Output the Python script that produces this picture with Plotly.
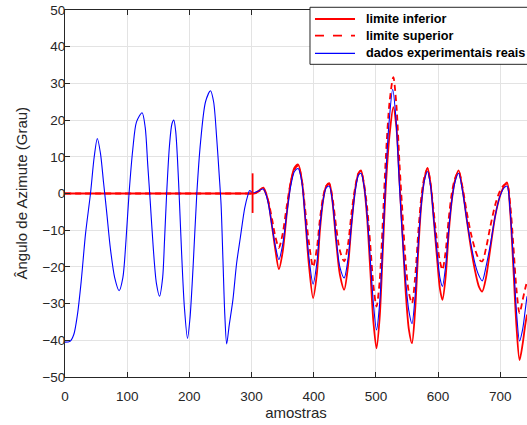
import plotly.graph_objects as go

# ---------------- data ----------------
blue_x = [0, 8, 14, 20, 26, 33, 41, 47, 52, 57, 62, 67, 73, 80, 87, 93, 98, 103, 109, 115, 124, 129, 133, 137,
          142, 147, 152, 157, 160, 163.5, 168, 172, 175, 178, 181, 184, 188, 192, 197, 201, 206, 212, 218, 226,
          234, 239, 244, 248, 251, 254, 257, 260, 264, 270, 276, 282, 289, 294, 297, 302, 310, 319, 326, 333,
          338, 344, 350, 357, 363, 369, 375, 381, 386, 392, 399, 405, 410, 415, 420, 425, 430, 436, 442, 449,
          455, 461, 467, 472, 476, 481, 486, 491, 496, 501, 506, 511, 516, 521, 527, 532, 537, 542, 548, 553,
          558, 563, 568, 573, 578, 583, 588, 593, 599, 603, 607, 612, 617, 622, 627, 633, 639, 646, 653, 660,
          666, 671, 677, 684, 692, 699, 706, 711, 716, 721, 726, 731, 736, 740, 743]
blue_y = [-40.5, -40.3, -38.5, -33, -24, -11, 0, 10, 15, 11, 3, -5, -15, -23, -26.5, -23, -13, 0, 12, 19.5, 22,
          18, 8, -2, -15, -24.5, -28, -23, -13, 0, 13, 19, 20, 17, 9, -2, -18, -31, -39.5, -34, -20, 0, 14, 25,
          28, 25, 15, 5, -3, -18, -33, -41, -36, -29, -19, -12, -4, -0.5, 0.8, 0.2, 0.6, 1.2, -2, -9,
          -14, -18, -14, -5, 2, 6, 6.8, 3, -6, -17, -24.7, -19, -9, -2, 1.5, 2, -2, -12, -20, -23,
          -18, -8, 1, 5, 5.5, 2, -6, -18, -30, -37.2, -30, -14, 5, 19, 28.4, 21, 5, -10, -24, -32,
          -35.5, -28, -14, -3, 3.5, 6, 2, -7, -17, -23, -25.3, -20, -10, -2, 3, 5.5, 1, -7, -14, -19.5,
          -22.5, -23.8, -20, -14, -6, -1, 1.5, 2, -5, -18, -32, -40.2, -37, -32, -28]

lim_x = [0, 300, 305, 312, 319, 326, 333, 338, 344, 350, 357, 363, 369, 375, 381, 386, 392, 399, 405, 410,
         415, 420, 425, 430, 436, 442, 449, 455, 461, 467, 472, 476, 481, 486, 491, 496, 501, 506, 511, 516,
         522, 528, 533, 538, 543, 548, 553, 558, 563, 568, 573, 578, 583, 588, 593, 599, 603, 607, 612, 617,
         622, 627, 633, 639, 646, 653, 660, 666, 671, 677, 684, 692, 699, 706, 711, 716, 721, 726, 731, 736,
         740, 743]
inf_y = [0, 0, 0, 0.8, 1.6, -1.5, -9, -15, -20.6, -16, -5, 3, 7, 7.9, 3.5, -6, -19, -28.5, -22, -10,
         -2, 2, 2.8, -2, -13, -22, -26.2, -20, -8, 1.5, 5.5, 6.3, 2, -7, -21, -35, -42.2, -34, -16, 2,
         16, 23.5, 18, 3, -12, -27, -37, -40.8, -32, -16, -3, 4, 7, 2.5, -7, -19, -26, -29, -23, -11,
         -2, 3.5, 6.3, 1.5, -7, -15, -21.5, -25.5, -26.7, -23, -15, -6, -1, 2, 3, -5, -20, -36, -45.4, -41,
         -36, -33]
sup_y = [0, 0, 0, 0.6, 1.2, -1.5, -7, -11.5, -14.8, -11, -3, 3, 6.5, 7.5, 3.5, -4, -13, -20, -15, -7,
         -1, 2, 2.5, -1, -9, -15.5, -18.5, -14, -5, 2, 5.5, 6, 2.5, -4, -14, -25, -30.8, -24, -8, 10,
         25, 31.7, 24, 8, -6, -19, -27, -29.9, -23, -11, -1, 4.5, 6.8, 2.5, -5, -14, -18.5, -20.8, -16, -7,
         0, 4, 6, 2, -5, -11, -15.5, -18, -18.5, -15, -9, -3, 0.5, 2.3, 2.5, -3, -14, -26, -32.6, -29,
         -26, -24]

spike_x = [301.7, 301.7]
spike_y = [-5.3, 5.5]

x_ticks = [0, 100, 200, 300, 400, 500, 600, 700]
y_ticks = [-50, -40, -30, -20, -10, 0, 10, 20, 30, 40, 50]

series_names = ["limite inferior", "limite superior", "dados experimentais reais"]
series_colors = ["#ff0000", "#ff0000", "#0000ff"]
series_dash = ["solid", "6px,4px", "solid"]
series_width = [1.8, 1.8, 1.1]

FONT = "Liberation Sans, Arial, sans-serif"

# ---------------- figure ----------------
fig = go.Figure()
ys = [inf_y, sup_y, blue_y]
xs = [lim_x, lim_x, blue_x]
for i in range(3):
    fig.add_trace(go.Scatter(x=xs[i], y=ys[i], mode="lines", name=series_names[i], showlegend=False,
                             line=dict(color=series_colors[i], width=series_width[i], dash=series_dash[i],
                                       shape="spline", smoothing=0.8)))
fig.add_trace(go.Scatter(x=spike_x, y=spike_y, mode="lines", showlegend=False, hoverinfo="skip",
                         line=dict(color="#ff0000", width=1.8)))

axis_common = dict(
    showgrid=True, gridcolor="#e3e3e3", gridwidth=1,
    zeroline=False, showline=True, linecolor="#262626", linewidth=1,
    ticks="inside", ticklen=5, tickcolor="#262626",
    tickfont=dict(family=FONT, size=13.5, color="#262626"),
)

# manual legend box (placed like the original MATLAB legend)
leg_left, leg_right, leg_top, leg_bot = 0.5303, 1.03, 1.0074, 0.852
row_y = [0.9755, 0.9300, 0.8820]
fig.add_shape(type="rect", xref="paper", yref="paper", x0=leg_left, x1=leg_right, y0=leg_bot, y1=leg_top,
              line=dict(color="#262626", width=1), fillcolor="white", layer="above")
for i in range(3):
    fig.add_shape(type="line", xref="paper", yref="paper", x0=0.5411, x1=0.6277, y0=row_y[i], y1=row_y[i],
                  line=dict(color=series_colors[i], width=series_width[i] if i < 2 else 1.3,
                            dash="dash" if i == 1 else "solid"), layer="above")
    fig.add_annotation(xref="paper", yref="paper", x=0.6478, y=row_y[i], xanchor="left", yanchor="middle",
                       text="<b>%s</b>" % series_names[i], showarrow=False,
                       font=dict(family=FONT, size=12.7, color="black"))

# y-axis title placed as in the original
fig.add_annotation(xref="paper", yref="paper", x=-0.0952, y=0.5, xanchor="center", yanchor="middle",
                   text="Ângulo de Azimute (Grau)", textangle=-90, showarrow=False,
                   font=dict(family=FONT, size=15, color="#262626"))

fig.update_layout(
    width=527, height=425,
    margin=dict(l=65, r=0, t=10, b=48),
    paper_bgcolor="white", plot_bgcolor="white",
    font=dict(family=FONT, color="#262626"),
    xaxis=dict(range=[0, 743], tickvals=x_ticks, mirror="allticks", ticklabelstandoff=7,
               title=dict(text="amostras", font=dict(size=15), standoff=0), **axis_common),
    yaxis=dict(range=[-50, 50], tickvals=y_ticks, ticklabelstandoff=-4, ticklabeloverflow="allow",
               **axis_common),
    showlegend=False,
)

fig.write_html("out.html", config={"displayModeBar": False},
               post_script="document.body.style.margin='0px';")
